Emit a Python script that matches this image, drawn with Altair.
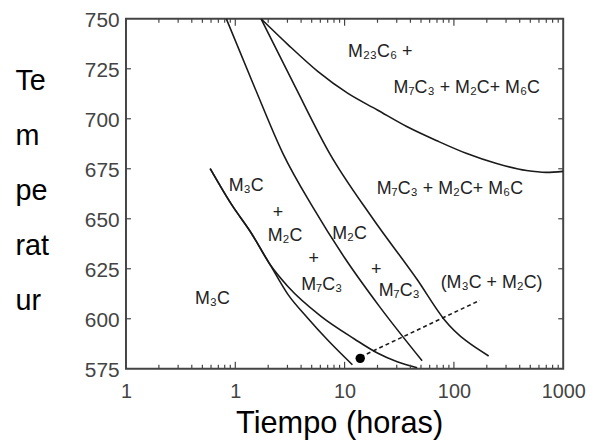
import altair as alt
import pandas as pd

# ---- curve data (hours, temperature) ----
a_t = [0.589, 0.92, 1.398, 2.08]
a_T = [675.1, 657.3, 642.9, 627.1]
a1_t = [3.03, 4.61, 7.0, 11.8]
a1_T = [612.2, 600.3, 589.4, 577.0]
a2_t = [3.03, 6.05, 12.3, 19.95, 30.3, 46.1]
a2_T = [616.1, 601.3, 589.9, 582.9, 578.5, 575.5]
b_t = [0.828, 1.488, 2.73, 5.12, 10.0, 20.8, 51.2]
b_T = [750, 716.3, 682.6, 655.8, 630.5, 606.2, 579.0]
c_t = [1.72, 3.51, 7.31, 17.97, 46.1, 81.1, 208]
c_T = [750, 716.3, 682.6, 650.4, 619.6, 599.8, 581.4]
e_t = [1.72, 3.03, 5.68, 10.65, 19.95, 37.4, 70.0, 131.3, 246, 461, 700, 1000]
e_T = [750, 737.1, 723.7, 712.8, 704.4, 696.0, 689.0, 682.6, 677.6, 674.1, 673.2, 673.7]

dash_t = [13.98, 172.3]
dash_T = [580.9, 609.2]
dot_t = [13.9]
dot_T = [580.2]

label_text = ["M₂₃C₆ +", "M₇C₃ + M₂C+ M₆C", "M₇C₃ + M₂C+ M₆C", "M₃C", "+", "M₂C", "+",
              "M₇C₃", "M₂C", "+", "M₇C₃", "(M₃C + M₂C)", "M₃C"]
label_t = [21.2, 131.2, 91.9, 1.259, 2.46, 2.85, 5.23, 6.18, 11.1, 19.5, 31.6, 221, 0.618]
label_T = [733.2, 715.6, 665.0, 666.5, 652.8, 641.2, 630.0, 617.0, 642.2, 624.6, 614.0, 617.9, 610.0]

x_major = [1, 10, 100]
x_minor = [k * 10.0 ** e for e in range(-1, 3) for k in range(2, 10)]
y_ticks = [600, 625, 650, 675, 700, 725]
x_labels = [0.1, 1, 10, 100, 1000]
y_labels = [575, 600, 625, 650, 675, 700, 725, 750]

# ---- tables ----
rows = []
for name, ts, Ts in [("A1", a_t + a1_t, a_T + a1_T), ("A2", a_t + a2_t, a_T + a2_T),
                     ("B", b_t, b_T), ("C", c_t, c_T), ("E", e_t, e_T)]:
    for t, T in zip(ts, Ts):
        rows.append({"curve": name, "t": t, "T": T})
curves = pd.DataFrame(rows)
dash = pd.DataFrame({"t": dash_t, "T": dash_T})
dot = pd.DataFrame({"t": dot_t, "T": dot_T})
labels = pd.DataFrame({"label": label_text, "t": label_t, "T": label_T})
xmaj = pd.DataFrame({"t": x_major})
xmin = pd.DataFrame({"t": x_minor})
yt = pd.DataFrame({"T": y_ticks})

FONT = "Liberation Sans, Arial, Helvetica, sans-serif"
W, H = 441, 353
INK = "#1a1a1a"
TICK = "#444"

xscale = alt.Scale(type="log", domain=[0.1, 1000], nice=False)
yscale = alt.Scale(domain=[575, 750], nice=False, zero=False)

xaxis = alt.Axis(values=x_labels,
                 labelExpr="datum.value < 0.5 ? '1' : format(datum.value, 'd')",
                 ticks=False, domain=False, grid=False, labelFlush=False, labelOverlap=False,
                 labelFont=FONT, labelFontSize=20, labelColor="#444", labelPadding=13,
                 title="Tiempo (horas)", titleFont=FONT, titleFontSize=31,
                 titleFontWeight="normal", titleColor="#000", titleX=215, titleY=64,
                 titleBaseline="alphabetic", titleAlign="center")
yaxis = alt.Axis(values=y_labels, ticks=False, domain=False, grid=False,
                 labelFont=FONT, labelFontSize=21, labelColor="#444", labelPadding=7,
                 labelOffset=2,
                 title=["Te", "m", "pe", "rat", "ur"], titleFont=FONT, titleFontSize=29,
                 titleFontWeight="normal", titleColor="#000", titleAngle=0,
                 titleAlign="left", titleBaseline="alphabetic", titleX=-112, titleY=71,
                 titleLineHeight=55.5)

lines = alt.Chart(curves).mark_line(interpolate="monotone", color=INK, strokeWidth=1.6,
                                    clip=True).encode(
    x=alt.X("t:Q", scale=xscale, axis=xaxis),
    y=alt.Y("T:Q", scale=yscale, axis=yaxis),
    detail="curve:N")

dashed = alt.Chart(dash).mark_line(color=INK, strokeWidth=1.6, strokeDash=[4, 3]).encode(
    x="t:Q", y="T:Q")

dotm = alt.Chart(dot).mark_point(filled=True, color="#000", size=90, opacity=1).encode(
    x="t:Q", y="T:Q")

text = alt.Chart(labels).mark_text(font=FONT, fontSize=18, color="#222").encode(
    x="t:Q", y="T:Q", text="label:N")

bmin = alt.Chart(xmin).mark_rule(color=TICK, strokeWidth=1.2).encode(
    x="t:Q", y=alt.value(H), y2=alt.value(H - 4))
bmaj = alt.Chart(xmaj).mark_rule(color=TICK, strokeWidth=1.2).encode(
    x="t:Q", y=alt.value(H), y2=alt.value(H - 7))
tmin = alt.Chart(xmin).mark_rule(color=TICK, strokeWidth=1.2).encode(
    x="t:Q", y=alt.value(0), y2=alt.value(4))
tmaj = alt.Chart(xmaj).mark_rule(color=TICK, strokeWidth=1.2).encode(
    x="t:Q", y=alt.value(0), y2=alt.value(7))
lt = alt.Chart(yt).mark_rule(color=TICK, strokeWidth=1.2).encode(
    y="T:Q", x=alt.value(0), x2=alt.value(5))
rt = alt.Chart(yt).mark_rule(color=TICK, strokeWidth=1.2).encode(
    y="T:Q", x=alt.value(W), x2=alt.value(W - 5))

chart = alt.layer(lines, dashed, dotm, text, bmin, bmaj, tmin, tmaj, lt, rt).properties(
    width=W, height=H,
    autosize=alt.AutoSizeParams(type="none"),
    padding={"left": 119, "top": 9, "right": 24, "bottom": 73},
    background="white",
).configure_view(stroke="#444", strokeWidth=2)

chart.save("out.html", embed_options={"renderer": "svg", "actions": False})
